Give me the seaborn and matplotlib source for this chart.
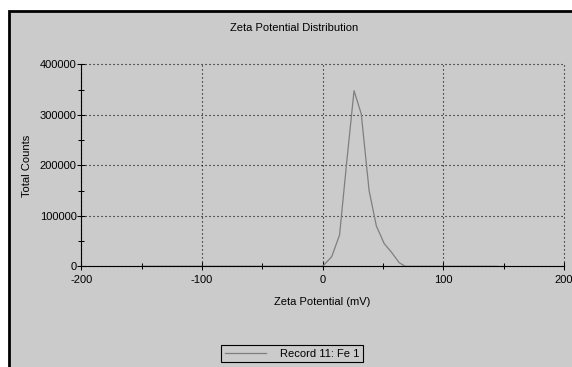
import matplotlib
matplotlib.use("Agg")
import matplotlib.pyplot as plt
import matplotlib.patches as mpatches
from matplotlib.ticker import MultipleLocator
import seaborn as sns
import pandas as pd

# ---- data ----
zeta_mv = [-150, 0, 7.5, 14, 20, 26, 32, 38.5, 44.5, 51, 57, 63.5, 68.5, 145]
total_counts = [0, 0, 19000, 62000, 208000, 348000, 302000, 150000, 80000,
                45000, 28000, 7000, 0, 0]
series_label = "Record 11: Fe 1"
title_text = "Zeta Potential Distribution"
x_label = "Zeta Potential (mV)"
y_label = "Total Counts"
x_ticks = [-200, -100, 0, 100, 200]
y_ticks = [0, 100000, 200000, 300000, 400000]

plt.rcParams["font.family"] = ["Liberation Sans", "DejaVu Sans"]
plt.rcParams["axes.unicode_minus"] = False

W, H = 572, 367
PANEL = "#cbcbcb"
LINE = "#7f7f7f"

fig = plt.figure(figsize=(W / 100, H / 100), dpi=100, facecolor="white")

# grey panel with black border on the left/top
panel = mpatches.Rectangle(
    (9 / W, -0.1), 1.2, (H - 11) / H + 0.1, transform=fig.transFigure,
    facecolor=PANEL, edgecolor="black", linewidth=2.0, zorder=-5)
fig.patches.append(panel)

ax = fig.add_axes([81.3 / W, 1 - 266.3 / H, (564 - 81.3) / W, (266.3 - 64.5) / H])
ax.set_facecolor(PANEL)
ax.patch.set_alpha(0.0)

df = pd.DataFrame({"zeta": zeta_mv, "counts": total_counts})
sns.lineplot(data=df, x="zeta", y="counts", ax=ax, color=LINE, linewidth=0.9,
             label=series_label, estimator=None, legend=False)
for ln in ax.lines:
    ln.set_clip_on(False)

ax.set_xlim(-200, 200)
ax.set_ylim(0, 400000)
ax.set_xticks(x_ticks)
ax.set_yticks(y_ticks)
ax.set_xticklabels([str(v) for v in x_ticks])
ax.set_yticklabels([str(v) for v in y_ticks])
ax.xaxis.set_minor_locator(MultipleLocator(50))
ax.yaxis.set_minor_locator(MultipleLocator(50000))

for side in ("top", "right"):
    ax.spines[side].set_visible(False)
for side in ("left", "bottom"):
    ax.spines[side].set_color("black")
    ax.spines[side].set_linewidth(0.8)

ax.tick_params(which="major", direction="inout", length=6, width=0.75,
               colors="black", labelsize=8)
ax.tick_params(which="minor", direction="inout", length=4.5, width=0.75,
               colors="black")
ax.tick_params(axis="x", which="major", pad=3.2)
ax.tick_params(axis="y", which="major", pad=0.3)

ax.grid(True, which="major", color="black", linewidth=0.8,
        linestyle=(0, (1, 2.6)))
for gl in ax.get_xgridlines() + ax.get_ygridlines():
    gl.set_clip_on(False)
ax.set_axisbelow(True)

ax.set_xlabel(x_label, fontsize=8)
ax.xaxis.set_label_coords(0.5, -0.152)
ax.set_ylabel(y_label, fontsize=8)
ax.yaxis.set_label_coords(-0.1015, 0.5)

fig.text(294.2 / W, 1 - 27.7 / H, title_text, ha="center", va="center",
         fontsize=8)

handles, labels = ax.get_legend_handles_labels()
leg = fig.legend(handles, labels, loc="center",
                 bbox_to_anchor=(292 / W, 1 - 353.8 / H),
                 bbox_transform=fig.transFigure, fontsize=8,
                 frameon=True, fancybox=False, shadow=False,
                 facecolor=PANEL, edgecolor="black", framealpha=1,
                 borderpad=0.3, handlelength=3.7, handletextpad=1.25,
                 borderaxespad=0)
leg.get_frame().set_linewidth(0.8)

fig.savefig("out.png", dpi=100, facecolor="white")
